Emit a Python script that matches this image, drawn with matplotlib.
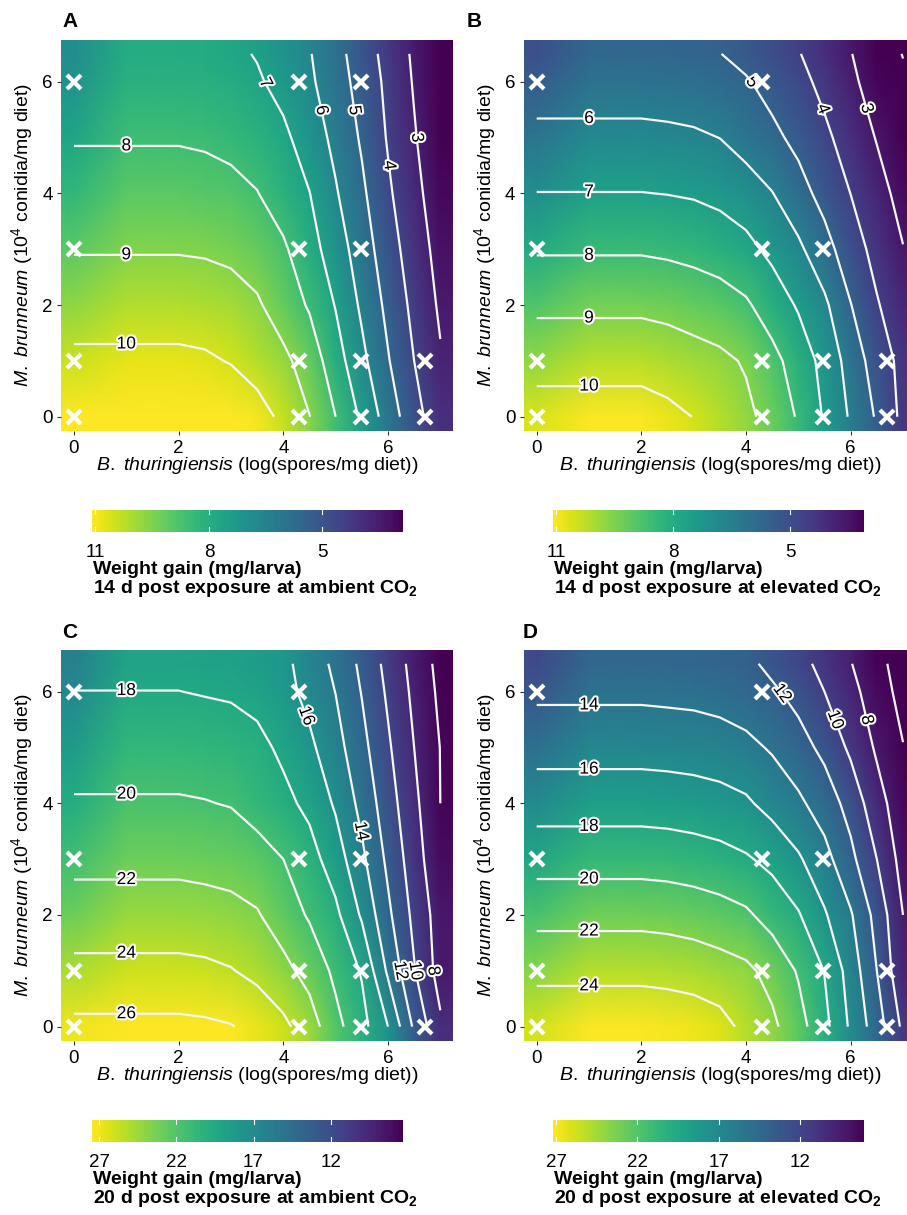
import numpy as np
import matplotlib.pyplot as plt
import matplotlib.patheffects as pe
from matplotlib.colors import Normalize
from matplotlib.cm import ScalarMappable

plt.rcParams['font.family'] = ['Liberation Sans', 'DejaVu Sans']
plt.rcParams['mathtext.fontset'] = 'custom'
plt.rcParams['mathtext.rm'] = 'Liberation Sans'
plt.rcParams['mathtext.it'] = 'Liberation Sans:italic'
plt.rcParams['mathtext.bf'] = 'Liberation Sans:bold'

# prediction grid
bt_dose = [0, 1, 2, 2.5, 3, 3.5, 4, 4.5, 5, 5.5, 6, 6.5, 7]
mb_dose = [0, 1, 2, 3, 4, 5, 6, 6.5]

# weight gain (mg/larva), rows = mb_dose, cols = bt_dose
gain_14d_ambient = [
    [10.93, 10.93, 10.93, 10.85, 10.70, 10.40, 9.78, 9.02, 8.00, 6.83, 5.55, 4.35, 3.40],
    [10.20, 10.20, 10.20, 10.13, 9.95, 9.58, 9.22, 8.56, 7.44, 6.25, 5.07, 4.00, 3.09],
    [9.54, 9.54, 9.54, 9.50, 9.38, 9.12, 8.53, 7.90, 6.95, 5.83, 4.76, 3.74, 2.86],
    [8.94, 8.94, 8.94, 8.90, 8.80, 8.55, 8.14, 7.38, 6.50, 5.50, 4.44, 3.50, 2.67],
    [8.40, 8.40, 8.40, 8.35, 8.26, 8.03, 7.54, 7.02, 6.09, 5.18, 4.15, 3.28, 2.45],
    [7.93, 7.93, 7.93, 7.88, 7.75, 7.55, 7.20, 6.53, 5.75, 4.88, 3.92, 3.08, 2.25],
    [7.52, 7.52, 7.52, 7.47, 7.35, 7.12, 6.69, 6.16, 5.45, 4.64, 3.78, 2.92, 2.08],
    [7.34, 7.34, 7.34, 7.30, 7.20, 6.94, 6.50, 6.06, 5.33, 4.51, 3.67, 2.85, 2.03],
]
gain_14d_elevated = [
    [10.45, 10.45, 10.45, 10.25, 9.98, 9.60, 9.21, 8.67, 7.90, 6.90, 5.88, 4.89, 3.75],
    [9.63, 9.63, 9.63, 9.51, 9.35, 9.20, 8.91, 8.29, 7.56, 6.70, 5.60, 4.52, 3.72],
    [8.81, 8.81, 8.81, 8.73, 8.58, 8.41, 8.13, 7.53, 6.90, 6.19, 5.03, 4.08, 3.37],
    [7.90, 7.90, 7.90, 7.83, 7.72, 7.56, 7.27, 6.77, 6.19, 5.35, 4.46, 3.69, 3.03],
    [7.02, 7.02, 7.02, 6.98, 6.91, 6.75, 6.48, 6.03, 5.36, 4.68, 3.99, 3.34, 2.69],
    [6.26, 6.26, 6.26, 6.21, 6.14, 5.99, 5.60, 5.22, 4.75, 4.19, 3.58, 2.95, 2.30],
    [5.50, 5.50, 5.50, 5.47, 5.40, 5.27, 5.09, 4.67, 4.28, 3.75, 3.18, 2.60, 2.15],
    [5.15, 5.15, 5.15, 5.12, 5.07, 5.02, 4.71, 4.38, 4.05, 3.55, 3.03, 2.52, 1.97],
]
gain_20d_ambient = [
    [26.45, 26.45, 26.45, 26.33, 26.10, 25.35, 24.45, 22.96, 20.58, 18.68, 16.00, 11.67, 8.33],
    [24.50, 24.50, 24.50, 24.40, 24.10, 23.52, 22.57, 21.30, 19.57, 17.83, 13.67, 10.13, 7.20],
    [22.92, 22.92, 22.92, 22.77, 22.58, 22.16, 20.99, 19.79, 18.45, 15.74, 12.41, 9.51, 7.06],
    [21.47, 21.47, 21.47, 21.37, 21.21, 20.83, 20.00, 18.75, 17.00, 14.42, 11.57, 8.95, 6.40],
    [20.18, 20.18, 20.18, 20.08, 19.90, 19.18, 18.50, 17.54, 15.73, 13.42, 10.88, 8.48, 6.00],
    [19.09, 19.09, 19.09, 19.00, 18.86, 18.51, 17.63, 16.40, 14.74, 12.60, 10.28, 8.00, 5.96],
    [18.02, 18.02, 18.02, 17.90, 17.79, 17.43, 16.66, 15.42, 13.96, 11.91, 9.70, 7.57, 5.60],
    [17.52, 17.52, 17.52, 17.42, 17.28, 16.95, 16.50, 15.10, 13.57, 11.57, 9.40, 7.35, 5.40],
]
gain_20d_elevated = [
    [25.46, 25.46, 25.46, 25.33, 25.13, 24.67, 23.51, 22.40, 20.77, 18.57, 15.68, 12.97, 9.60],
    [23.46, 23.46, 23.46, 23.35, 23.15, 22.80, 22.40, 21.38, 19.81, 17.94, 15.14, 12.00, 8.40],
    [21.41, 21.41, 21.41, 21.30, 21.10, 20.77, 20.31, 19.25, 18.17, 16.21, 14.20, 11.33, 8.00],
    [19.22, 19.22, 19.22, 19.13, 18.93, 18.65, 18.21, 17.50, 16.25, 14.67, 12.50, 10.00, 7.25],
    [17.14, 17.14, 17.14, 17.06, 16.91, 16.69, 16.29, 15.33, 14.37, 13.07, 11.28, 8.75, 6.83],
    [15.28, 15.28, 15.28, 15.21, 15.11, 14.90, 14.50, 13.79, 12.76, 11.51, 9.62, 7.73, 6.07],
    [13.60, 13.60, 13.60, 13.52, 13.44, 13.23, 12.85, 12.31, 11.37, 10.00, 8.57, 7.00, 5.33],
    [12.80, 12.80, 12.80, 12.77, 12.70, 12.55, 12.45, 11.51, 10.58, 9.47, 8.08, 6.60, 5.10],
]

# raster values along the left edge (darker than the contours suggest)
rim_14d_ambient = [10.60, 9.85, 9.10, 8.40, 7.70, 7.10, 6.50, 6.30]
rim_14d_elevated = [10.05, 9.18, 8.31, 7.35, 6.42, 5.61, 4.80, 4.45]
rim_20d_ambient = [25.45, 23.40, 21.50, 19.80, 18.20, 16.70, 15.20, 14.50]
rim_20d_elevated = [24.26, 22.16, 20.01, 17.72, 15.54, 13.48, 11.60, 10.80]

# legend (colour bar) limits and ticks
limits_14d_ambient = (2.88, 11.10)
limits_14d_elevated = (3.10, 11.07)
limits_20d_ambient = (7.33, 27.49)
limits_20d_elevated = (8.05, 27.17)
ticks_14d = [11, 8, 5]
ticks_20d = [27, 22, 17, 12]

# colour limits as they appear in the rasters (brighter than the legend)
raster_14d_ambient = (2.3, 10.5)
raster_14d_elevated = (2.5, 10.5)
raster_20d_ambient = (5.8, 26.0)
raster_20d_elevated = (6.5, 25.6)

# contour levels
levels_14d = [2, 3, 4, 5, 6, 7, 8, 9, 10]
levels_20d = [6, 8, 10, 12, 14, 16, 18, 20, 22, 24, 26]

# tested doses (white crosses)
design_bt_a = [0, 0, 0, 0, 4.3, 4.3, 4.3, 4.3, 5.48, 5.48, 5.48, 5.48, 6.7, 6.7]
design_mb_a = [0, 1, 3, 6, 0, 1, 3, 6, 0, 1, 3, 6, 0, 1]
design_bt_b = [0, 0, 0, 0, 4.3, 4.3, 4.3, 4.3, 5.48, 5.48, 5.48, 6.7, 6.7]
design_mb_b = [0, 1, 3, 6, 0, 1, 3, 6, 0, 1, 3, 0, 1]
design_bt_c = [0, 0, 0, 0, 4.3, 4.3, 4.3, 4.3, 5.48, 5.48, 5.48, 6.7]
design_mb_c = [0, 1, 3, 6, 0, 1, 3, 6, 0, 1, 3, 0]
design_bt_d = design_bt_b
design_mb_d = design_mb_b

panels = [
    dict(letter='A', gain=gain_14d_ambient, rim=rim_14d_ambient, lim=limits_14d_ambient,
         rlim=raster_14d_ambient, levels=levels_14d, cticks=ticks_14d, bt=design_bt_a, mb=design_mb_a,
         title='14 d post exposure at ambient CO$_\\mathbf{2}$',
         lab=[(1, 4.85), (1, 2.9), (1, 1.28), (3.71, 6.0), (4.73, 5.49), (5.37, 5.49), (6.0, 4.5), (6.55, 5.0)],
         pos=(60.9, 39.9), cpos=(91.7, 510), cy=(574.5, 593), lpos=(62, 27)),
    dict(letter='B', gain=gain_14d_elevated, rim=rim_14d_elevated, lim=limits_14d_elevated,
         rlim=raster_14d_elevated, levels=levels_14d, cticks=ticks_14d, bt=design_bt_b, mb=design_mb_b,
         title='14 d post exposure at elevated CO$_\\mathbf{2}$',
         lab=[(1, 5.34), (1, 4.03), (1, 2.88), (1, 1.80), (1, 0.52), (4.12, 6.0), (5.49, 5.52), (6.29, 5.52)],
         pos=(523.6, 39.9), cpos=(553.3, 510), cy=(574.5, 593), lpos=(467, 27)),
    dict(letter='C', gain=gain_20d_ambient, rim=rim_20d_ambient, lim=limits_20d_ambient,
         rlim=raster_20d_ambient, levels=levels_20d, cticks=ticks_20d, bt=design_bt_c, mb=design_mb_c,
         title='20 d post exposure at ambient CO$_\\mathbf{2}$',
         lab=[(1, 6.02), (1, 4.14), (1, 2.59), (1, 1.31), (1, 0.24), (4.48, 5.58), (5.43, 3.49),
              (6.2, 1.0), (6.52, 1.0), (6.87, 1.0)],
         pos=(60.9, 649.8), cpos=(91.7, 1120), cy=(1184.5, 1203), lpos=(62, 638)),
    dict(letter='D', gain=gain_20d_elevated, rim=rim_20d_elevated, lim=limits_20d_elevated,
         rlim=raster_20d_elevated, levels=levels_20d, cticks=ticks_20d, bt=design_bt_d, mb=design_mb_d,
         title='20 d post exposure at elevated CO$_\\mathbf{2}$',
         lab=[(1, 5.75), (1, 4.58), (1, 3.56), (1, 2.64), (1, 1.73), (1, 0.73), (4.69, 5.97), (5.68, 5.49), (6.29, 5.49)],
         pos=(523.6, 649.8), cpos=(553.3, 1120), cy=(1184.5, 1203), lpos=(523, 638)),
]

W, H = 907, 1215
fig = plt.figure(figsize=(W / 100, H / 100), dpi=100)

x = np.array(bt_dose)
y = np.array(mb_dose)
# raster grid padded half a cell like geom_raster
xr = np.concatenate([[-0.25], x, [7.25]])
yr = np.concatenate([[-0.25], y, [6.75]])

for p in panels:
    left, top = p['pos']
    ax = fig.add_axes([left / W, 1 - (top + 390.8) / H, 392.5 / W, 390.8 / H])
    z = np.array(p['gain'])
    zr = np.pad(z, 1, mode='edge')
    rim = np.pad(np.array(p['rim']), 1, mode='edge')
    zr[:, 0] = rim
    zr[:, 1] = rim
    rmin, rmax = p['rlim']
    ax.pcolormesh(xr, yr, zr, shading='gouraud', cmap='viridis', vmin=rmin, vmax=rmax,
                  rasterized=True)
    cs = ax.contour(x, y, z, levels=p['levels'], colors='#f7f7f7', linewidths=1.6)
    labels = ax.clabel(cs, fmt='%d', fontsize=12.5, colors='black', inline=False, manual=p['lab'])
    for t in labels:
        t.set_path_effects([pe.withStroke(linewidth=3, foreground='white')])
    ax.plot(p['bt'], p['mb'], 'x', color='white', ms=10, mew=3, zorder=5)

    ax.set_xlim(-0.25, 7.25)
    ax.set_ylim(-0.25, 6.75)
    ax.set_xticks([0, 2, 4, 6])
    ax.set_yticks([0, 2, 4, 6])
    for s in ax.spines.values():
        s.set_visible(False)
    ax.tick_params(labelsize=13.5, length=3, width=0.8, color='#333333', labelcolor='black')
    ax.tick_params(axis='x', pad=4)
    ax.tick_params(axis='y', pad=3)
    ax.text(0.5, -0.09, r'$\mathit{B.\ thuringiensis}$ (log(spores/mg diet))', transform=ax.transAxes,
            ha='center', va='center', fontsize=14)
    ax.text(-0.098, 0.5, r'$\mathit{M.\ brunneum}$ (10$^4$ conidia/mg diet)', transform=ax.transAxes,
            ha='center', va='center', rotation=90, fontsize=14)

    fig.text(p['lpos'][0] / W, 1 - p['lpos'][1] / H, p['letter'], fontsize=15, fontweight='bold',
             va='baseline')

    # colour bar
    cl, ct = p['cpos']
    cax = fig.add_axes([cl / W, 1 - (ct + 21.7) / H, 311 / W, 21.7 / H])
    sm = ScalarMappable(norm=Normalize(*p['lim']), cmap='viridis')
    cb = fig.colorbar(sm, cax=cax, orientation='horizontal', ticks=p['cticks'])
    cax.invert_xaxis()
    cb.outline.set_visible(False)
    cax.tick_params(length=0, labelsize=13.5, pad=8.5)
    for t in p['cticks']:
        cax.axvline(t, 0, 0.2, color='white', lw=0.8)
        cax.axvline(t, 0.8, 1, color='white', lw=0.8)

    fig.text((cl + 1) / W, 1 - p['cy'][0] / H, 'Weight gain (mg/larva)', fontsize=14,
             fontweight='bold', va='baseline')
    fig.text((cl + 1) / W, 1 - p['cy'][1] / H, p['title'], fontsize=14,
             fontweight='bold', va='baseline')

fig.savefig('out.png', dpi=100)
